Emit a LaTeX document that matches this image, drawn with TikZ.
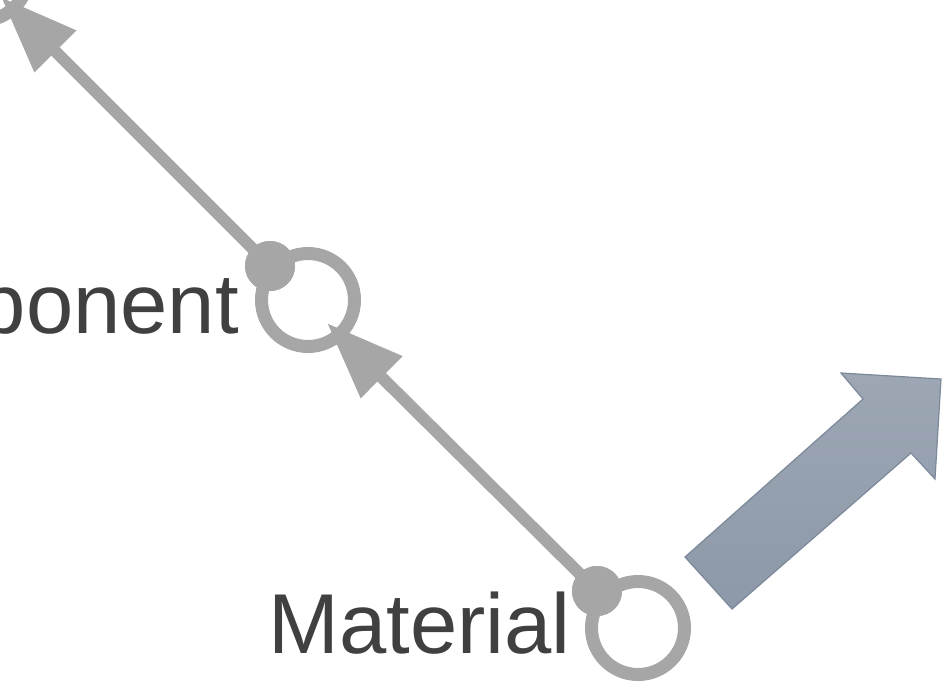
\documentclass[tikz,border=0pt]{standalone}
\usepackage{fontspec}
\setmainfont{Liberation Sans}
\usetikzlibrary{arrows.meta}
\definecolor{linegray}{HTML}{A6A6A6}
\definecolor{textgray}{HTML}{404040}
\definecolor{arrowtop}{HTML}{9DA7B4}
\definecolor{arrowbot}{HTML}{8D98A8}
\definecolor{arrowedge}{HTML}{7C899B}
\tikzset{
  ring/.style={circle, draw=linegray, line width=13pt, minimum size=93pt, inner sep=0pt},
  balldot/.style={circle, fill=linegray, minimum size=50pt, inner sep=0pt},
  conn/.style={draw=linegray, line width=12pt, -{Triangle[length=77pt, width=56pt]}},
  lbl/.style={text=textgray, inner sep=0pt, font=\fontsize{85pt}{100pt}\selectfont},
}
\begin{document}
\begin{tikzpicture}[x=1pt, y=-1pt]
\useasboundingbox (0,0) rectangle (942,686);
\clip (0,0) rectangle (942,686);
% nodes
\node[ring] (top) at (-18,-26) {};
\node[ring] (comp) at (308,300) {};
\node[ring] (mat) at (638,628) {};
\node[balldot] (compdot) at (270,266) {};
\node[balldot] (matdot) at (597,591) {};
\coordinate (toptip) at (1,-3);
\coordinate (comptip) at (327,323);
% connectors
\draw[conn] (matdot.center) -- (comptip);
\draw[conn] (compdot.center) -- (toptip);
\node[balldot] at (compdot) {};
\node[balldot] at (matdot) {};
% labels
\node[lbl, anchor=base east] (complbl) at (239,333) {Component};
\node[lbl, anchor=base east] (matlbl) at (571,653) {Material};
% big arrow
\shade[top color=arrowtop, bottom color=arrowbot, draw=arrowedge, line width=1.2pt, line join=miter]
  (685,557) -- (863,399) -- (841,373) -- (941,379) -- (935,479) -- (911,453) -- (732,609) -- cycle;
\end{tikzpicture}
\end{document}
